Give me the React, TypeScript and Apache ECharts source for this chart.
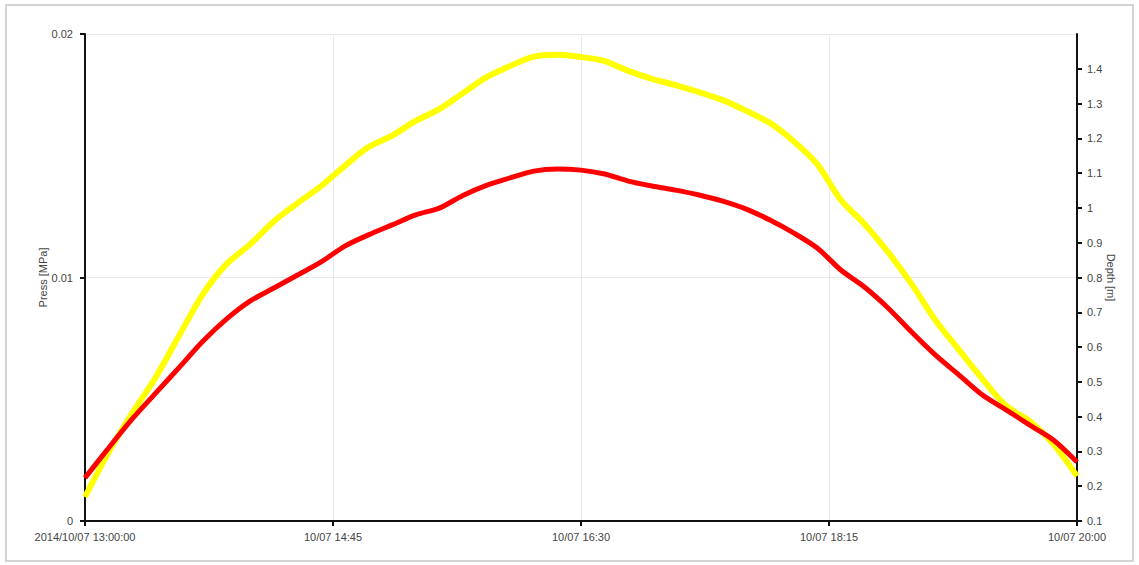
import React, { useEffect, useRef } from "react";
import * as echarts from "echarts";

const times = [
  "13:00", "13:10", "13:20", "13:30", "13:40", "13:50",
  "14:00", "14:10", "14:20", "14:30", "14:40", "14:50",
  "15:00", "15:10", "15:20", "15:30", "15:40", "15:50",
  "16:00", "16:10", "16:20", "16:30", "16:40", "16:50",
  "17:00", "17:10", "17:20", "17:30", "17:40", "17:50",
  "18:00", "18:10", "18:20", "18:30", "18:40", "18:50",
  "19:00", "19:10", "19:20", "19:30", "19:40", "19:50",
  "20:00",
];

// Press [MPa] (red, left axis)
const pressValues = [
  0.00177, 0.0030, 0.00419, 0.00526, 0.00632, 0.00739,
  0.0083, 0.00904, 0.00957, 0.0101, 0.01064, 0.01129,
  0.01175, 0.01216, 0.01257, 0.01285, 0.01337, 0.01378,
  0.01409, 0.01437, 0.01446, 0.01441, 0.01425, 0.01396,
  0.01376, 0.01359, 0.01339, 0.01314, 0.01281, 0.01236,
  0.01183, 0.01121, 0.01031, 0.00961, 0.00875, 0.00776,
  0.00682, 0.0060, 0.00517, 0.00456, 0.00394, 0.00333,
  0.00242,
];

// Depth [m] (yellow, right axis)
const depthValues = [
  0.169, 0.298, 0.41, 0.514, 0.635, 0.753,
  0.839, 0.896, 0.962, 1.014, 1.063, 1.121,
  1.175, 1.208, 1.25, 1.284, 1.33, 1.376,
  1.408, 1.435, 1.44, 1.434, 1.422, 1.394,
  1.371, 1.353, 1.333, 1.31, 1.279, 1.244,
  1.192, 1.126, 1.023, 0.954, 0.873, 0.781,
  0.678, 0.592, 0.508, 0.431, 0.387, 0.321,
  0.229,
];

const xTickLabels = [
  "2014/10/07 13:00:00",
  "10/07 14:45",
  "10/07 16:30",
  "10/07 18:15",
  "10/07 20:00",
];

const depthTicks = [0.1, 0.2, 0.3, 0.4, 0.5, 0.6, 0.7, 0.8, 0.9, 1, 1.1, 1.2, 1.3, 1.4];

const toMinutes = (t: string) => {
  const [h, m] = t.split(":").map(Number);
  return (h - 13) * 60 + m;
};

const FONT = "'Liberation Sans', Arial, sans-serif";
const LABEL_COLOR = "#444";

export default function App() {
  const ref = useRef<HTMLDivElement>(null);

  useEffect(() => {
    document.body.style.margin = "0";
    if (!ref.current) return;
    const chart = echarts.init(ref.current, undefined, { renderer: "svg" });

    const pressData = times.map((t, i) => [toMinutes(t), pressValues[i]]);
    const depthData = times.map((t, i) => [toMinutes(t), depthValues[i]]);

    const labelStyle = { color: LABEL_COLOR, fontSize: 11, fontFamily: FONT };

    chart.setOption({
      animation: false,
      backgroundColor: "#fff",
      graphic: [
        {
          type: "rect",
          shape: { x: 6, y: 5, width: 1127, height: 556 },
          style: { fill: "none", stroke: "#d4d4d4", lineWidth: 2 },
          silent: true,
        },
      ],
      grid: { left: 85, right: 62, top: 34, bottom: 44 },
      xAxis: {
        type: "value",
        min: 0,
        max: 420,
        interval: 105,
        axisLine: { show: true, lineStyle: { color: "#111", width: 2 } },
        axisTick: { show: true, length: 5, lineStyle: { color: "#111", width: 2 } },
        axisLabel: {
          ...labelStyle,
          margin: 10,
          showMinLabel: true,
          showMaxLabel: true,
          formatter: (v: number) => xTickLabels[Math.round(v / 105)] ?? "",
        },
        splitLine: { show: true, lineStyle: { color: "#e8e8e8", width: 1 } },
      },
      yAxis: [
        {
          type: "value",
          position: "left",
          min: 0,
          max: 0.02,
          interval: 0.01,
          name: "Press [MPa]",
          nameLocation: "middle",
          nameRotate: 90,
          nameGap: 37,
          nameMoveOverlap: false,
          nameTextStyle: labelStyle,
          axisLine: { show: true, lineStyle: { color: "#111", width: 2 } },
          axisTick: { show: true, length: 5, lineStyle: { color: "#111", width: 2 } },
          axisLabel: { ...labelStyle, margin: 12 },
          splitLine: { show: true, lineStyle: { color: "#e8e8e8", width: 1 } },
        },
        {
          type: "value",
          position: "right",
          min: 0.1,
          max: 1.5,
          interval: 0.1,
          name: "Depth [m]",
          nameLocation: "middle",
          nameRotate: -90,
          nameGap: 28,
          nameMoveOverlap: false,
          nameTextStyle: labelStyle,
          axisLine: { show: true, lineStyle: { color: "#111", width: 2 } },
          axisTick: {
            show: true,
            length: 5,
            customValues: depthTicks,
            lineStyle: { color: "#111", width: 2 },
          },
          axisLabel: { ...labelStyle, margin: 10, customValues: depthTicks },
          splitLine: { show: false },
        },
      ],
      series: [
        {
          name: "Depth",
          type: "line",
          yAxisIndex: 1,
          data: depthData,
          showSymbol: false,
          smooth: 0.3,
          lineStyle: { color: "#ffff00", width: 6 },
          itemStyle: { color: "#ffff00" },
          z: 2,
        },
        {
          name: "Press",
          type: "line",
          yAxisIndex: 0,
          data: pressData,
          showSymbol: false,
          smooth: 0.3,
          lineStyle: { color: "#ff0000", width: 5 },
          itemStyle: { color: "#ff0000" },
          z: 3,
        },
      ],
    });

    return () => chart.dispose();
  }, []);

  return <div ref={ref} style={{ width: 1139, height: 565 }} />;
}
